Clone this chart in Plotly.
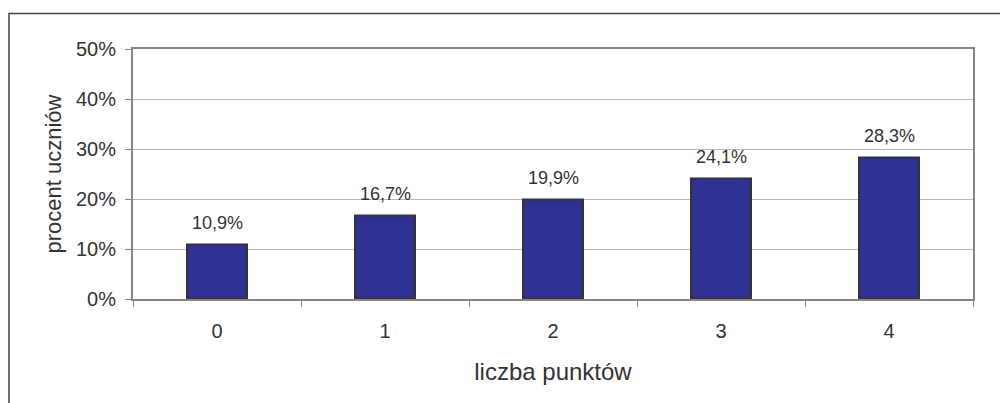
import plotly.graph_objects as go

categories = ["0", "1", "2", "3", "4"]
values = [10.9, 16.7, 19.9, 24.1, 28.3]
y_ticks = [0, 10, 20, 30, 40, 50]
y_tick_labels = ["0%", "10%", "20%", "30%", "40%", "50%"]

labels = [f"{v:.1f}%".replace(".", ",") for v in values]

font_family = "Liberation Sans, Arial, sans-serif"
text_color = "#333333"

fig = go.Figure()
fig.add_trace(go.Bar(
    x=categories,
    y=values,
    marker=dict(color="#2E3192", line=dict(color="#333333", width=2)),
    width=0.357,
    hoverinfo="x+y",
))

for c, v, t in zip(categories, values, labels):
    fig.add_annotation(
        x=c, y=v, text=t, showarrow=False,
        yanchor="bottom", yshift=10,
        font=dict(family=font_family, size=18, color=text_color),
    )

L, R, T, B = 133, 27, 49, 104
W, H = 1000, 403
pw, ph = W - L - R, H - T - B

fig.update_layout(
    width=W, height=H,
    margin=dict(l=L, r=R, t=T, b=B, pad=0),
    paper_bgcolor="white",
    plot_bgcolor="white",
    showlegend=False,
    font=dict(family=font_family, size=20, color=text_color),
    xaxis=dict(
        type="category",
        showline=True, linecolor="#8c8282", linewidth=2, mirror=True,
        ticks="outside", ticklen=6, tickcolor="#8c8282", tickwidth=1,
        tickson="boundaries",
        ticklabelstandoff=13,
        showgrid=False,
        tickfont=dict(size=20, color=text_color),
        title=dict(text="liczba punktów", font=dict(size=24, color=text_color), standoff=22),
        automargin=False,
    ),
    yaxis=dict(
        range=[0, 50],
        tickvals=y_ticks, ticktext=y_tick_labels,
        showline=True, linecolor="#8c8282", linewidth=2, mirror=True,
        ticks="outside", ticklen=6, tickcolor="#8c8282", tickwidth=1,
        ticklabelstandoff=5,
        showgrid=True, gridcolor="#bdb6b6", gridwidth=1,
        zeroline=False,
        tickfont=dict(size=20, color=text_color),
        title=dict(text="procent uczniów", font=dict(size=22, color=text_color), standoff=8),
        automargin=False,
    ),
    shapes=[dict(
        type="rect", xref="paper", yref="paper",
        x0=(9 - L) / pw, x1=(1003 - L) / pw,
        y0=(H - B - 406) / ph, y1=(H - B - 13.5) / ph,
        line=dict(color="#404040", width=1.5),
        fillcolor="rgba(0,0,0,0)", layer="below",
    )],
)

fig.write_html("out.html", config={"displayModeBar": False},
               post_script="document.body.style.margin='0';")
